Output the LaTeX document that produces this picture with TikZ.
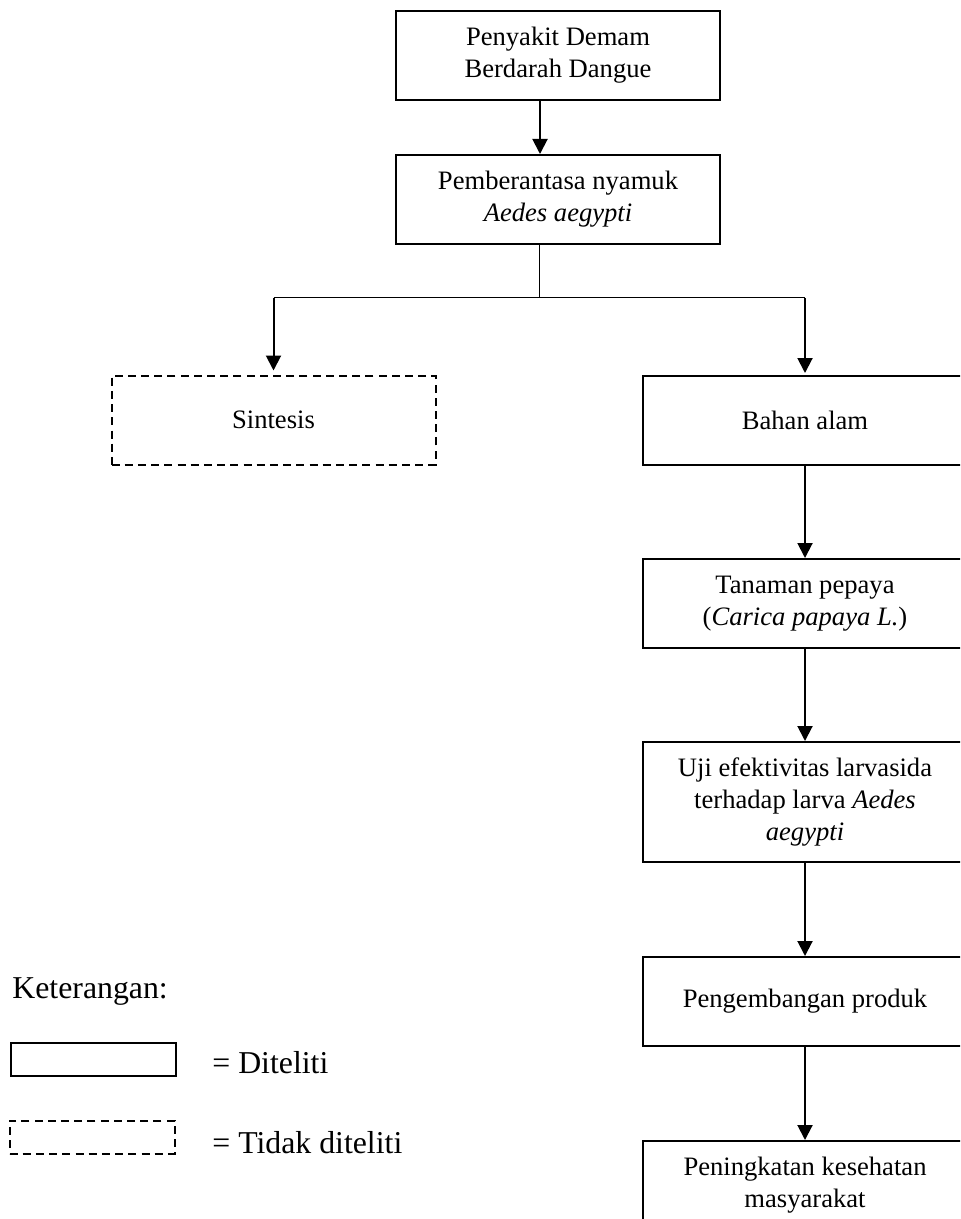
\documentclass[tikz,border=0pt]{standalone}
\usepackage{fontspec}
\setmainfont{Liberation Serif}
\usepackage{xcolor}
\usepackage{tikz}
\usetikzlibrary{positioning, arrows.meta}
\colorlet{rulecolor}{black}
\colorlet{linkcolor}{black}
\colorlet{textcolor}{black}
\tikzset{
	box/.style={
		,rectangle
		,draw			= rulecolor
		,line width		= 1pt
		,minimum width	= 162pt
		,minimum height	= 44.5pt
		,align			= center
		,inner sep		= 0pt
		,text			= textcolor
		,font			= \fontsize{13.3}{16}\selectfont
	}
	,notbox/.style	 = {box, dash pattern = on 4pt off 2.6pt}
	,keybox/.style	 = {box, minimum width = 82.5pt, minimum height = 16.5pt}
	,notkeybox/.style = {keybox, dash pattern = on 4pt off 2.6pt}
	,keytext/.style	 = {anchor = base west, inner sep = 0pt, text = textcolor, font = \fontsize{15.9}{19}\selectfont}
	,link/.style	 = {draw = linkcolor, line width = 1pt, -{Triangle[width=7.5pt, length=7.5pt]}}
	,rule/.style	 = {draw = linkcolor, line width = 0.5pt}
}
\begin{document}
\begin{tikzpicture}[x=0.5pt, y=-0.5pt]

	\path[use as bounding box, clip] (0,0) rectangle (960,1219);

	% the boxes
	\node[box] (dbd) at (558,55.5) {Penyakit Demam\\Berdarah Dangue};
	\node[box] (plan) at (558,199.5) {Pemberantasa nyamuk\\\textit{Aedes aegypti}};
	\node[notbox] (sintesis) at (273.5,420) {Sintesis};
	\node[box] (bahan) at (805,420.5) {Bahan alam};
	\node[box, below=46pt of bahan] (pepaya) {Tanaman pepaya\\(\textit{Carica papaya L.})};
	\node[box, below=46pt of pepaya, minimum height = 60pt] (uji) {Uji efektivitas larvasida\\terhadap larva \textit{Aedes}\\\textit{aegypti}};
	\node[box, below=46.5pt of uji] (produk) {Pengembangan produk};
	\node[box, below=46.5pt of produk] (sehat) {Peningkatan kesehatan\\masyarakat};

	% the split
	\coordinate (split) at (539,298);
	\draw[rule] ([xshift=-9.5pt]plan.south) -- (split);
	\draw[rule] (sintesis.north |- split) -- (bahan.north |- split);

	% the arrows
	\draw[link] ([xshift=-9pt]dbd.south) -- ([xshift=-9pt]plan.north);
	\draw[link, shorten >=2pt] (sintesis.north |- split) -- (sintesis.north);
	\draw[link, shorten >=1pt] (bahan.north |- split) -- (bahan.north);
	\draw[link] (bahan) -- (pepaya);
	\draw[link] (pepaya) -- (uji);
	\draw[link] (uji) -- (produk);
	\draw[link] (produk) -- (sehat);

	% the legend
	\node[keytext] (ket) at (12,998) {Keterangan:};
	\node[keybox] (key1) at (93.5,1059.5) {};
	\node[notkeybox] (key2) at (92,1137) {};
	\node[keytext] (ket1) at (212,1073) {= Diteliti};
	\node[keytext] (ket2) at (212,1153) {= Tidak diteliti};
\end{tikzpicture}
\end{document}
